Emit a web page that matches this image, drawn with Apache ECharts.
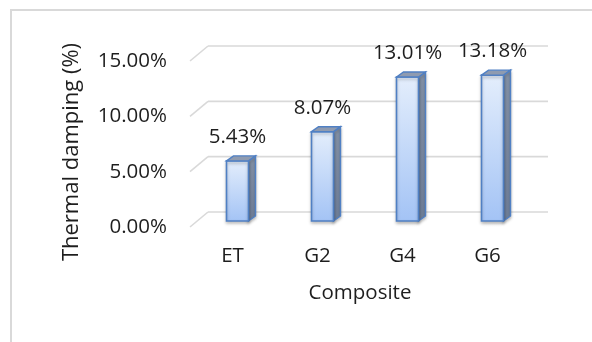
<!DOCTYPE html>
<html><head><meta charset="utf-8">
<script src="https://cdn.jsdelivr.net/npm/echarts@6/dist/echarts.min.js"></script>
<style>html,body{margin:0;padding:0;background:#fff}#c{width:592px;height:342px}</style>
</head><body><div id="c"></div>
<script>
const categories = ['ET', 'G2', 'G4', 'G6'];
const damping = [5.43, 8.07, 13.01, 13.18];
const yTicks = [0, 5, 10, 15];

const FONT = 'Open Sans';
const TXT = '#1e1e1e';
const FS = 20.5;
const DEPTH_X = 18, DEPTH_Y = -15;
const BAR_OFF_X = 5, BAR_OFF_Y = -6, BAR_W = 22, BAR_DX = 7, BAR_DY = -5;
const GRID_COLOR = '#d9d9d9';

const chart = echarts.init(document.getElementById('c'), null, {renderer: 'canvas'});

function gridRender(params, api) {
  const v = api.value(1);
  const y = api.coord([0, v])[1];
  const cs = params.coordSys;
  const x0 = cs.x, x1 = cs.x + cs.width;
  const st = {stroke: GRID_COLOR, lineWidth: 1.6};
  return {type: 'group', children: [
    {type: 'line', shape: {x1: x0, y1: y, x2: x0 + DEPTH_X, y2: y + DEPTH_Y}, style: st},
    {type: 'line', shape: {x1: x0 + DEPTH_X, y1: y + DEPTH_Y, x2: x1 + DEPTH_X, y2: y + DEPTH_Y}, style: st}
  ]};
}

function barRender(params, api) {
  const i = api.value(0), v = api.value(1);
  const p = api.coord([i, v]);
  const b = api.coord([i, 0]);
  const fx = p[0] - BAR_W / 2 + BAR_OFF_X;
  const top = p[1] + BAR_OFF_Y;
  const bottom = b[1] + BAR_OFF_Y;
  const rx = fx + BAR_W;
  const edge = '#5080c4';
  return {type: 'group', children: [
    {type: 'polygon', shape: {points: [[rx, top], [rx + BAR_DX, top + BAR_DY], [rx + BAR_DX, bottom + BAR_DY], [rx, bottom]]},
      style: {fill: new echarts.graphic.LinearGradient(0, 0, 0, 1, [{offset: 0, color: '#8593a8'}, {offset: 1, color: '#6f7f99'}]), stroke: edge, lineWidth: 1.4,
        shadowColor: 'rgba(0,0,0,0.25)', shadowBlur: 3, shadowOffsetY: 2}},
    {type: 'rect', shape: {x: fx, y: top, width: BAR_W, height: bottom - top},
      style: {fill: new echarts.graphic.LinearGradient(0, 0, 0, 1, [{offset: 0, color: '#e4eefc'}, {offset: 1, color: '#a3c3f5'}]), stroke: edge, lineWidth: 1.6,
        shadowColor: 'rgba(0,0,0,0.25)', shadowBlur: 3, shadowOffsetY: 2}},
    {type: 'polygon', shape: {points: [[fx, top], [fx + BAR_DX, top + BAR_DY], [rx + BAR_DX, top + BAR_DY], [rx, top]]},
      style: {fill: '#8f9bb0', stroke: edge, lineWidth: 1.4}},
    {type: 'text', x: fx + BAR_W / 2, y: top - 24,
      style: {text: v.toFixed(2) + '%', align: 'center', verticalAlign: 'middle', fontFamily: FONT, fontSize: FS, fill: TXT}}
  ]};
}

chart.setOption({
  animation: false,
  backgroundColor: '#fff',
  grid: {left: 190, right: 62, top: 61, bottom: 115},
  xAxis: {
    type: 'category', data: categories,
    axisLine: {show: false}, axisTick: {show: false},
    axisLabel: {margin: 19, fontFamily: FONT, fontSize: FS, color: TXT},
    name: 'Composite', nameLocation: 'middle', nameGap: 56,
    nameTextStyle: {fontFamily: FONT, fontSize: FS, color: TXT}
  },
  yAxis: {
    type: 'value', min: 0, max: 15, interval: 5,
    axisLine: {show: false}, axisTick: {show: false}, splitLine: {show: false},
    axisLabel: {margin: 23, fontFamily: FONT, fontSize: FS, color: TXT, formatter: v => v.toFixed(2) + '%'}
  },
  graphic: [
    {type: 'rect', shape: {x: 11, y: 10, width: 700, height: 500}, style: {fill: 'none', stroke: GRID_COLOR, lineWidth: 2}, silent: true},
    {type: 'text', x: 72, y: 152, rotation: Math.PI / 2,
      style: {text: 'Thermal damping (%)', align: 'center', verticalAlign: 'middle', fontFamily: FONT, fontSize: 22, fill: TXT}}
  ],
  series: [
    {type: 'custom', renderItem: gridRender, data: yTicks.map(v => [0, v]), silent: true, z: 1},
    {type: 'custom', renderItem: barRender, data: damping.map((v, i) => [i, v]), z: 2}
  ]
});
</script></body></html>
